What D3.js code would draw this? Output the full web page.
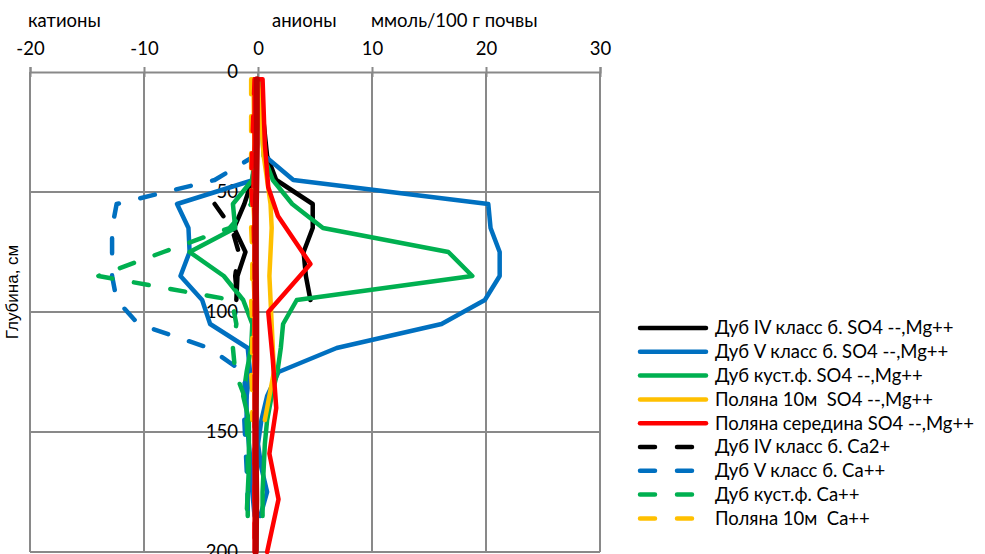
<!DOCTYPE html>
<html>
<head>
<meta charset="utf-8">
<script src="https://cdn.jsdelivr.net/npm/d3@7"></script>
<style>
  body { margin: 0; background: #fff; }
  text { font-family: Lato, "Noto Sans", sans-serif; fill: #000; white-space: pre; }
</style>
</head>
<body>
<script>
// depths, cm
const depthDub = [3, 35, 45, 55, 65, 75, 85, 95, 105, 115, 125, 135, 145, 155, 165, 175, 185];
const depthDub4 = [3, 35, 45, 55, 65, 75, 85, 95];
const depthPol10 = [3, 35, 45, 55, 65, 75, 85, 95, 105, 115, 125, 135, 145];
const depthPolMid = [3, 30, 48, 60, 80, 100, 120, 140, 159, 178, 200];

// Дуб IV класс б.
const dub4An = [0.1, 0.8, 1.6, 4.8, 4.8, 4.0, 4.2, 4.6];
const dub4Cat = [-0.1, -0.2, -0.5, -1.2, -2.1, -1.1, -1.8, -1.9];
const dub4Ca = [null, null, null, -3.8, -2.3, -1.7, -2.0, -1.8];
// Дуб V класс б.
const dub5An = [0.3, 0.6, 3.1, 20.2, 20.4, 21.2, 21.2, 19.9, 16.1, 6.9, 1.8, 0.8, 0.3, 0.0, 0.3, 0.8, 0.2];
const dub5Cat = [-0.2, -0.3, -0.4, -7.1, -6.1, -6.0, -6.8, -4.9, -4.2, -0.9, -0.7, -1.0, -1.0, -0.8, -0.6, -0.5, -0.3];
const dub5Ca = [-0.2, -0.3, -3.8, -12.4, -12.8, -12.8, -12.8, -12.4, -10.5, -4.3, -1.3, -1.0, -1.2, -1.1, -1.0, -0.9, -0.9];
// Дуб куст.ф.
const kustAn = [0.1, 0.5, 1.3, 3.0, 5.7, 16.7, 18.8, 3.4, 2.2, 2.0, 1.7, 1.2, 0.8, 0.6, 0.5, 0.4, 0.4];
const kustCat = [-0.1, -0.3, -0.5, -2.2, -2.0, -6.0, -3.0, -1.3, -0.5, -0.6, -1.0, -1.3, -0.8, -0.8, -0.8, -0.9, -0.9];
const kustCa = [-0.1, -0.3, -0.5, -0.6, -2.5, -8.3, -14.0, -2.3, -1.9, -2.2, -2.0, -1.2, -1.0, -0.9, -0.9, -0.9, -1.0];
// Поляна 10м
const pol10An = [0.0, 0.5, 0.8, 1.1, 1.2, 1.1, 1.0, 1.1, 1.2, 1.3, 1.4, 1.0, 0.6];
const pol10Cat = [-0.4, -0.3, -0.3, -0.4, -0.3, -0.3, -0.4, -0.3, -0.3, -0.4, -0.3, -0.3, -0.2];
const pol10Ca = [-0.6, -0.6, -0.6, -0.5, -0.6, -0.5, -0.5, -0.6, -0.5, -0.5, -0.6, -0.5, -0.5];
// Поляна середина
const polMidAn = [0.4, 0.6, 0.9, 1.75, 4.6, 0.9, 1.3, 1.6, 1.0, 1.8, 0.8];
const polMidCat = [-0.3, -0.3, -0.4, -0.3, -0.3, -0.3, -0.3, -0.3, -0.3, -0.3, -0.3];
const polMidCa = [-0.3, -0.5, -0.6, -0.4, -0.3, -0.3, -0.3, -0.3, -0.3, -0.3, -0.3];
const polMidDark = [-0.1, -0.1, -0.15, -0.2, -0.2, -0.15, -0.15, -0.2, -0.2, -0.15, -0.2];

const xTicks = [-20, -10, 0, 10, 20, 30];
const yTicks = [0, 50, 100, 150, 200];

const width = 985;
const height = 554;
let svg = d3.select('body')
    .append('svg')
    .attr('width', width)
    .attr('height', height);

const x = d3.scaleLinear().domain([-20, 30]).range([30, 600]);
const y = d3.scaleLinear().domain([0, 200]).range([72, 552]);

const gridColor = '#898989';

// gridlines
svg.append('g')
    .selectAll('line')
    .data(yTicks.slice(1))
    .join('line')
    .attr('x1', x(-20)).attr('x2', x(30))
    .attr('y1', d => y(d)).attr('y2', d => y(d))
    .style('stroke', gridColor).style('stroke-width', 2);

svg.append('g')
    .selectAll('line')
    .data(xTicks)
    .join('line')
    .attr('x1', d => x(d)).attr('x2', d => x(d))
    .attr('y1', y(0)).attr('y2', y(200))
    .style('stroke', gridColor).style('stroke-width', 2);

// top axis
let ax = svg.append('g')
    .attr('transform', `translate(0, ${y(0)})`)
    .call(d3.axisTop(x).tickValues(xTicks).tickFormat(d => String(d)).tickSize(5).tickPadding(12));
ax.select('.domain').style('stroke', gridColor).style('stroke-width', 2);
ax.selectAll('.tick line').attr('y2', 5).attr('y1', -5)
    .style('stroke', gridColor).style('stroke-width', 2);
ax.selectAll('.tick text')
    .style('font-size', '18.5px')
    .style('font-family', 'Lato, "Noto Sans", sans-serif');

// depth labels near the zero line
svg.append('g')
    .selectAll('text')
    .data(yTicks)
    .join('text')
    .attr('x', 238)
    .attr('y', d => y(d))
    .attr('dy', '0.35em')
    .attr('text-anchor', 'end')
    .style('font-size', '18.5px')
    .text(d => d);

// top titles
const titles = [['катионы', 28], ['анионы', 272], ['ммоль/100 г почвы', 371]];
svg.append('g')
    .selectAll('text')
    .data(titles)
    .join('text')
    .attr('x', d => d[1])
    .attr('y', 27)
    .style('font-size', '18.5px')
    .text(d => d[0]);

svg.append('text')
    .attr('transform', 'translate(18, 292) rotate(-90)')
    .attr('text-anchor', 'middle')
    .style('font-family', '"Liberation Sans", Arial, sans-serif')
    .style('font-size', '17px')
    .text('Глубина, см');

// series
function loop(depth, cat, an) {
    // cations from bottom to top, then anions from top to bottom
    let pts = [];
    for (let i = depth.length - 1; i >= 0; i--) pts.push([cat[i], depth[i]]);
    for (let i = 0; i < depth.length; i++) pts.push([an[i], depth[i]]);
    return pts;
}
function single(depth, vals) {
    return depth.map((d, i) => [vals[i], d]);
}

const series = [
    {name: 'Дуб IV класс б. SO4 --,Mg++', color: '#000000', dash: false, pts: loop(depthDub4, dub4Cat, dub4An)},
    {name: 'Дуб V класс б. SO4 --,Mg++', color: '#0070C0', dash: false, pts: loop(depthDub, dub5Cat, dub5An)},
    {name: 'Дуб куст.ф. SO4 --,Mg++', color: '#00B050', dash: false, pts: loop(depthDub, kustCat, kustAn)},
    {name: 'Поляна 10м  SO4 --,Mg++', color: '#FFC000', dash: false, pts: loop(depthPol10, pol10Cat, pol10An)},
    {name: 'Поляна середина SO4 --,Mg++', color: '#FF0000', dash: false, pts: loop(depthPolMid, polMidCat, polMidAn)},
    {name: 'Дуб IV класс б. Ca2+', color: '#000000', dash: true, pts: single(depthDub4, dub4Ca)},
    {name: 'Дуб V класс б. Ca++', color: '#0070C0', dash: true, pts: single(depthDub, dub5Ca)},
    {name: 'Дуб куст.ф. Ca++', color: '#00B050', dash: true, pts: single(depthDub, kustCa)},
    {name: 'Поляна 10м  Ca++', color: '#FFC000', dash: true, pts: single(depthPol10, pol10Ca)},
    {name: null, color: '#FF0000', dash: true, pts: single(depthPolMid, polMidCa)},
    {name: null, color: '#C00000', dash: false, wide: true, pts: single(depthPolMid, polMidDark)}
];

const line = d3.line()
    .defined(d => d[0] != null)
    .x(d => x(d[0]))
    .y(d => y(d[1]));

svg.append('g')
    .selectAll('path')
    .data(series)
    .join('path')
    .attr('d', d => line(d.pts))
    .style('fill', 'none')
    .style('stroke', d => d.color)
    .style('stroke-width', d => d.wide ? 6 : 4.5)
    .style('stroke-linejoin', 'round')
    .style('stroke-linecap', 'round')
    .style('stroke-dasharray', d => d.dash ? '15,22' : null);

// legend
let leg = svg.append('g')
    .selectAll('g')
    .data(series.filter(d => d.name))
    .join('g')
    .attr('transform', (d, i) => `translate(0, ${328 + i * 23.8})`);

leg.append('line')
    .attr('x1', 640).attr('x2', 706)
    .attr('y1', 0).attr('y2', 0)
    .style('stroke', d => d.color)
    .style('stroke-width', 4.5)
    .style('stroke-linecap', 'round')
    .style('stroke-dasharray', d => d.dash ? '15,22' : null);

leg.append('text')
    .attr('x', 715)
    .attr('y', 0)
    .attr('dy', '0.35em')
    .style('font-size', '18.5px')
    .text(d => d.name);
</script>
</body>
</html>
